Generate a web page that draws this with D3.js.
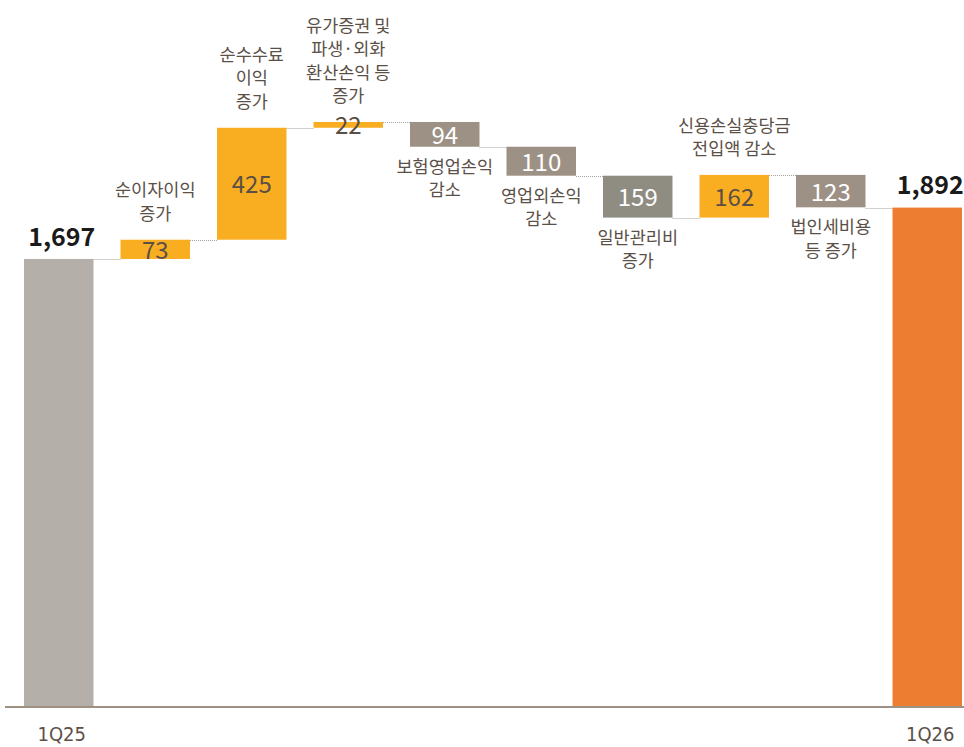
<!DOCTYPE html>
<html>
<head>
<meta charset="utf-8">
<script src="https://cdn.jsdelivr.net/npm/d3@7"></script>
<style>
	body {margin:0;background:#fff;}
	svg {display:block;font-family:"Noto Sans CJK KR","Noto Sans",sans-serif;}
	.cat {font-size:17.5px;fill:#5b5048;}
	.val {font-size:24px;}
	.total {font-size:25px;font-weight:bold;fill:#1a1a1a;}
	.axislabel {font-family:"DejaVu Sans Condensed","DejaVu Sans",sans-serif;font-stretch:condensed;font-size:20px;fill:#5b5048;}
</style>
</head>
<body>
<svg id="chart" width="964" height="747"></svg>
<script>
// categories / values (억원)
var categories = ["1Q25","순이자이익","순수수료이익","유가증권","보험영업손익","영업외손익","일반관리비","신용손실충당금","법인세비용","1Q26"];
var labels = [
	[],
	["순이자이익","증가"],
	["순수수료","이익","증가"],
	["유가증권 및","파생·외화","환산손익 등","증가"],
	["보험영업손익","감소"],
	["영업외손익","감소"],
	["일반관리비","증가"],
	["신용손실충당금","전입액 감소"],
	["법인세비용","등 증가"],
	[]
];
var values = [1697, 73, 425, 22, -94, -110, -159, 162, -123, 1892];
var types = ["total","up","up","up","down","down","down2","up","down","end"];
var axisLabels = ["1Q25","","","","","","","","","1Q26"];

var colors = {total:"#b4afa8", up:"#f9ae22", down:"#9d9186", down2:"#8f8c81", end:"#ed7d31"};

var w = 964, h = 747, base = 706;
var svg = d3.select("#chart");

var x = d3.scaleBand().domain(categories).range([24, 962]).paddingInner(0.28).paddingOuter(0);
var y = d3.scaleLinear().domain([0, 2680]).range([base, 0]);

// running totals
var run = 0;
var bars = values.map(function(v, i) {
	var d = {name: categories[i], v: v, type: types[i], lines: labels[i], label: axisLabels[i]};
	if (d.type == "total" || d.type == "end") {
		d.y0 = 0; d.y1 = v; run = v;
	} else {
		d.y0 = run; d.y1 = run + v; run = d.y1;
	}
	d.top = Math.max(d.y0, d.y1);
	d.bot = Math.min(d.y0, d.y1);
	return d;
});

// connectors
var conn = svg.append("g").attr("class", "connectors");
bars.forEach(function(d, i) {
	if (i == bars.length - 1) return;
	var next = bars[i + 1];
	var lvl = (next.type == "end") ? next.v : d.y1;
	if (d.type == "total") lvl = d.v;
	conn.append("line")
		.attr("x1", x(d.name) + x.bandwidth())
		.attr("x2", x(next.name))
		.attr("y1", Math.round(y(lvl)) + 0.5)
		.attr("y2", Math.round(y(lvl)) + 0.5)
		.attr("stroke", "#a8a39c")
		.attr("stroke-width", 1)
		.attr("stroke-dasharray", "1,1");
});

// bars
svg.append("g").selectAll("rect").data(bars).enter().append("rect")
	.attr("x", function(d) {return x(d.name);})
	.attr("width", x.bandwidth())
	.attr("y", function(d) {return y(d.top);})
	.attr("height", function(d) {return y(d.bot) - y(d.top);})
	.attr("fill", function(d) {return colors[d.type];});

// axis line
svg.append("line")
	.attr("x1", 5).attr("x2", w)
	.attr("y1", base + 1).attr("y2", base + 1)
	.attr("stroke", "#9d9186").attr("stroke-width", 2);

// value labels
var fmt = d3.format(",");
bars.forEach(function(d) {
	var cx = x(d.name) + x.bandwidth() / 2;
	if (d.type == "total" || d.type == "end") {
		svg.append("text").attr("class", "total")
			.attr("x", cx + 3).attr("y", y(d.top) - 22)
			.attr("dy", "0.35em")
			.style("text-anchor", "middle")
			.text(fmt(d.v));
	} else {
		svg.append("text").attr("class", "val")
			.attr("x", cx).attr("y", (y(d.top) + y(d.bot)) / 2 + 1)
			.attr("dy", "0.35em")
			.style("text-anchor", "middle")
			.style("fill", d.type == "up" ? "#5a4f45" : "#ffffff")
			.text(Math.abs(d.v));
	}

	// category labels
	var lh = 23.5;
	var n = d.lines.length;
	d.lines.forEach(function(t, j) {
		var ly;
		if (d.type == "up") ly = y(d.top) - 26 - (n - 1 - j) * lh;
		else ly = y(d.bot) + 20 + j * lh;
		svg.append("text").attr("class", "cat")
			.attr("x", cx).attr("y", ly)
			.attr("dy", "0.35em")
			.style("text-anchor", "middle")
			.text(t);
	});

	if (d.label) {
		svg.append("text").attr("class", "axislabel")
			.attr("x", cx + 3).attr("y", base + 28)
			.attr("dy", "0.35em")
			.style("text-anchor", "middle")
			.text(d.label);
	}
});
</script>
</body>
</html>
